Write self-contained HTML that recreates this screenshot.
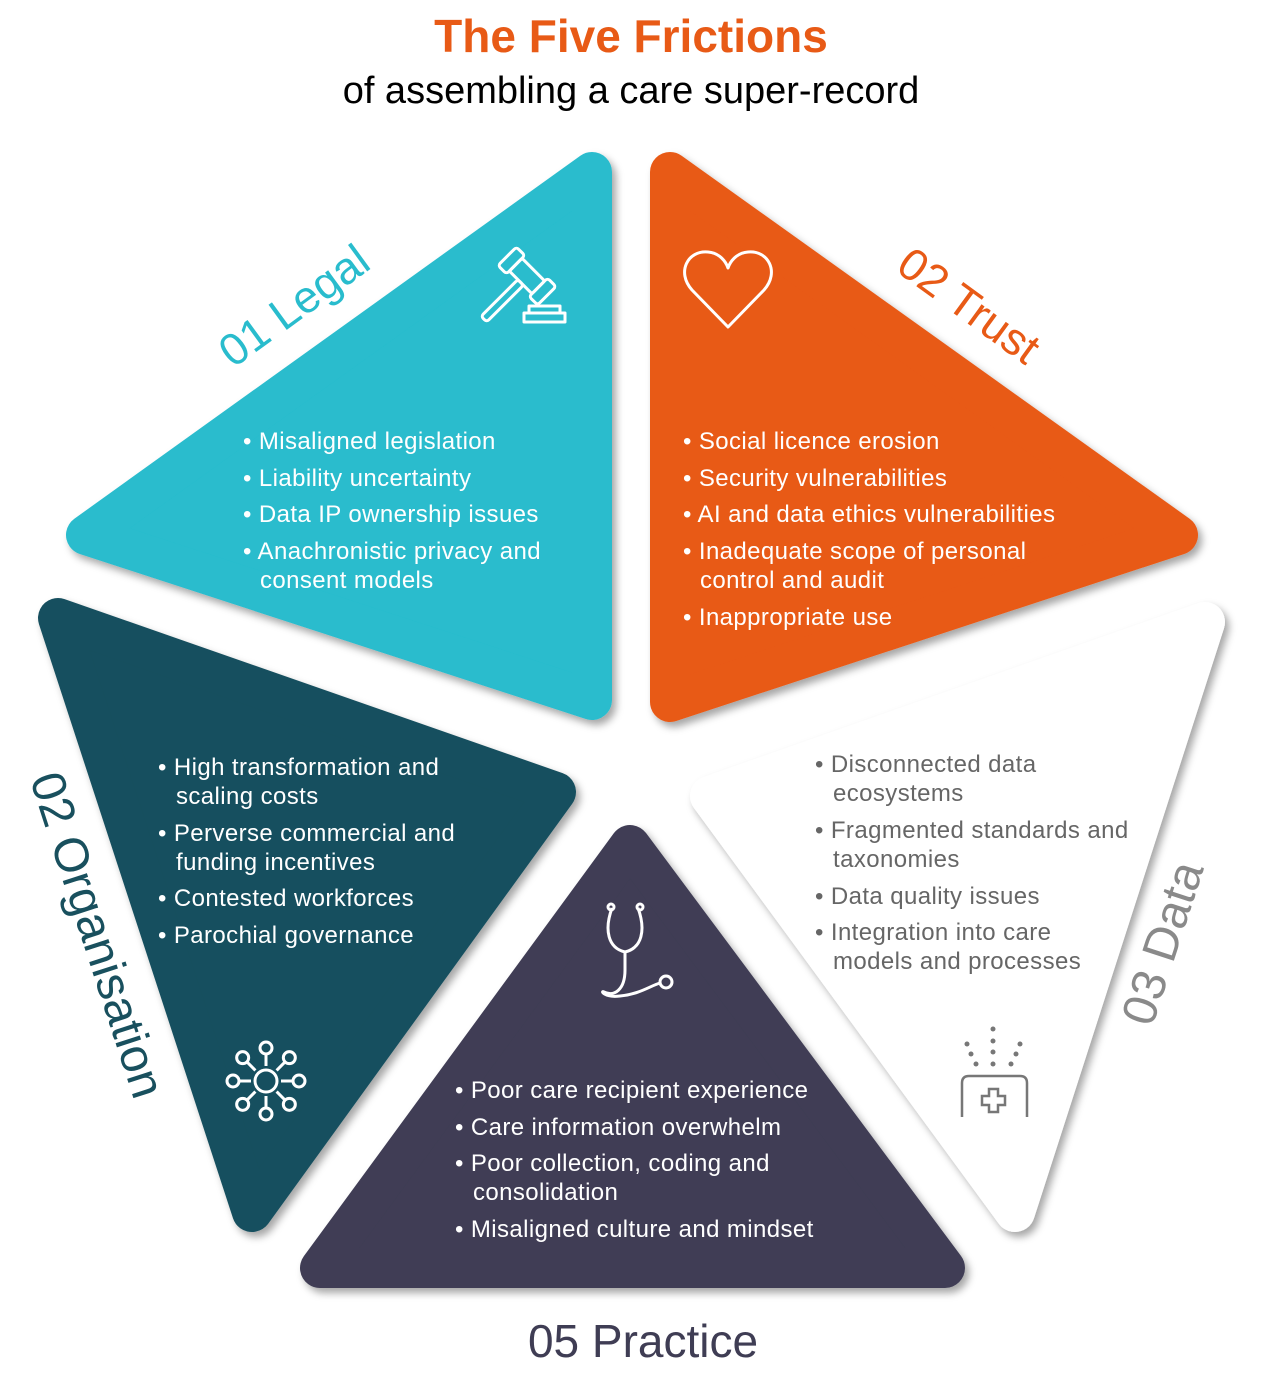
<!DOCTYPE html>
<html><head><meta charset="utf-8">
<style>
html,body{margin:0;padding:0;background:#fff;}
svg{display:block;}
text{font-family:"Liberation Sans",sans-serif;}
</style></head>
<body>
<svg width="1265" height="1379" viewBox="0 0 1265 1379" xmlns="http://www.w3.org/2000/svg">
<defs>
<filter id="sh" x="-10%" y="-10%" width="130%" height="130%">
<feDropShadow dx="4" dy="5" stdDeviation="4" flood-color="#000" flood-opacity="0.35"/>
</filter>
</defs>
<text x="631" y="52" text-anchor="middle" font-size="46" font-weight="bold" fill="#E85A16">The Five Frictions</text>
<text x="631" y="103" text-anchor="middle" font-size="38" fill="#000">of assembling a care super-record</text>

<g stroke-linejoin="round" stroke-width="40" filter="url(#sh)">
<polygon points="592,172 86,535 592,700" fill="#29BCCD" stroke="#29BCCD"/>
<polygon points="670,172 1178,535 670,702" fill="#E85A16" stroke="#E85A16"/>
<polygon points="1205,622 710,796 1015,1212" fill="#fff" stroke="#fff"/>
<polygon points="630,845 320,1268 945,1268" fill="#3F3D54" stroke="#3F3D54"/>
<polygon points="58,618 556,792 252,1212" fill="#19505E" stroke="#19505E"/>
</g>

<text transform="translate(303,318) rotate(-36)" text-anchor="middle" font-size="45" fill="#29BCCD">01 Legal</text>
<text transform="translate(960,318) rotate(36)" text-anchor="middle" font-size="45" fill="#E85A16">02 Trust</text>
<text transform="translate(82,940) rotate(72)" text-anchor="middle" font-size="48" fill="#19505E">02 Organisation</text>
<text transform="translate(1178,948) rotate(-72)" text-anchor="middle" font-size="48" fill="#8a8a8a">03 Data</text>
<text x="643" y="1357" text-anchor="middle" font-size="46" fill="#3F3D54">05 Practice</text>

<g font-size="24" fill="#fff" letter-spacing="0.4">
<text x="243" y="449">• Misaligned legislation</text>
<text x="243" y="486">• Liability uncertainty</text>
<text x="243" y="522">• Data IP ownership issues</text>
<text x="243" y="559">• Anachronistic privacy and</text>
<text x="260" y="588">consent models</text>

<text x="683" y="449">• Social licence erosion</text>
<text x="683" y="486">• Security vulnerabilities</text>
<text x="683" y="522">• AI and data ethics vulnerabilities</text>
<text x="683" y="559">• Inadequate scope of personal</text>
<text x="700" y="588">control and audit</text>
<text x="683" y="625">• Inappropriate use</text>

<text x="158" y="775">• High transformation and</text>
<text x="176" y="804">scaling costs</text>
<text x="158" y="841">• Perverse commercial and</text>
<text x="176" y="870">funding incentives</text>
<text x="158" y="906">• Contested workforces</text>
<text x="158" y="943">• Parochial governance</text>

<text x="455" y="1098">• Poor care recipient experience</text>
<text x="455" y="1135">• Care information overwhelm</text>
<text x="455" y="1171">• Poor collection, coding and</text>
<text x="473" y="1200">consolidation</text>
<text x="455" y="1237">• Misaligned culture and mindset</text>
</g>
<g font-size="24" fill="#666" letter-spacing="0.4">
<text x="815" y="772">• Disconnected data</text>
<text x="833" y="801">ecosystems</text>
<text x="815" y="838">• Fragmented standards and</text>
<text x="833" y="867">taxonomies</text>
<text x="815" y="904">• Data quality issues</text>
<text x="815" y="940">• Integration into care</text>
<text x="833" y="969">models and processes</text>
</g>

<g fill="none" stroke="#fff" stroke-width="3" stroke-linejoin="round">
<g transform="translate(527,276) rotate(45)">
<rect x="-16" y="-9" width="32" height="18" rx="2"/>
<rect x="-28" y="-13" width="12" height="26" rx="3"/>
<rect x="16" y="-13" width="12" height="26" rx="3"/>
<rect x="-4" y="9" width="8" height="52" rx="3"/>
</g>
<rect x="524" y="313" width="41" height="9"/>
<rect x="529" y="306" width="31" height="7"/>
<path d="M728,327 L692,290 C676,272 688,250 708,252 C720,253 726,262 728,268 C730,262 736,253 748,252 C768,250 780,272 764,290 Z"/>
<path d="M612,908 C604,930 608,948 625,952 C642,948 646,930 638,908"/>
<circle cx="611" cy="907" r="3"/><circle cx="640" cy="907" r="3"/>
<path d="M625,952 L625,970 C625,990 614,997 604,992 C600,990 604,998 620,996 C640,994 650,986 660,983"/>
<circle cx="666" cy="982" r="6"/>
<circle cx="266" cy="1081" r="11"/>
<g id="nd">
<line x1="266" y1="1066" x2="266" y2="1055"/><circle cx="266" cy="1048" r="6"/>
</g>
<use href="#nd" transform="rotate(45 266 1081)"/>
<use href="#nd" transform="rotate(90 266 1081)"/>
<use href="#nd" transform="rotate(135 266 1081)"/>
<use href="#nd" transform="rotate(180 266 1081)"/>
<use href="#nd" transform="rotate(225 266 1081)"/>
<use href="#nd" transform="rotate(270 266 1081)"/>
<use href="#nd" transform="rotate(315 266 1081)"/>
</g>
<g fill="#777">
<circle cx="993" cy="1029" r="2.5"/><circle cx="993" cy="1041" r="2.5"/><circle cx="993" cy="1052" r="2.5"/><circle cx="993" cy="1064" r="2.5"/>
<circle cx="967" cy="1044" r="2.5"/><circle cx="971" cy="1054" r="2.5"/><circle cx="976" cy="1064" r="2.5"/>
<circle cx="1020" cy="1044" r="2.5"/><circle cx="1016" cy="1054" r="2.5"/><circle cx="1011" cy="1064" r="2.5"/>
</g>
<g fill="none" stroke="#777" stroke-width="2.5">
<path d="M962,1117 L962,1083 Q962,1076 969,1076 L1020,1076 Q1027,1076 1027,1083 L1027,1117"/>
<path d="M989,1089 h9 v7 h7 v9 h-7 v7 h-9 v-7 h-7 v-9 h7 z"/>
</g>
</svg>
</body></html>
